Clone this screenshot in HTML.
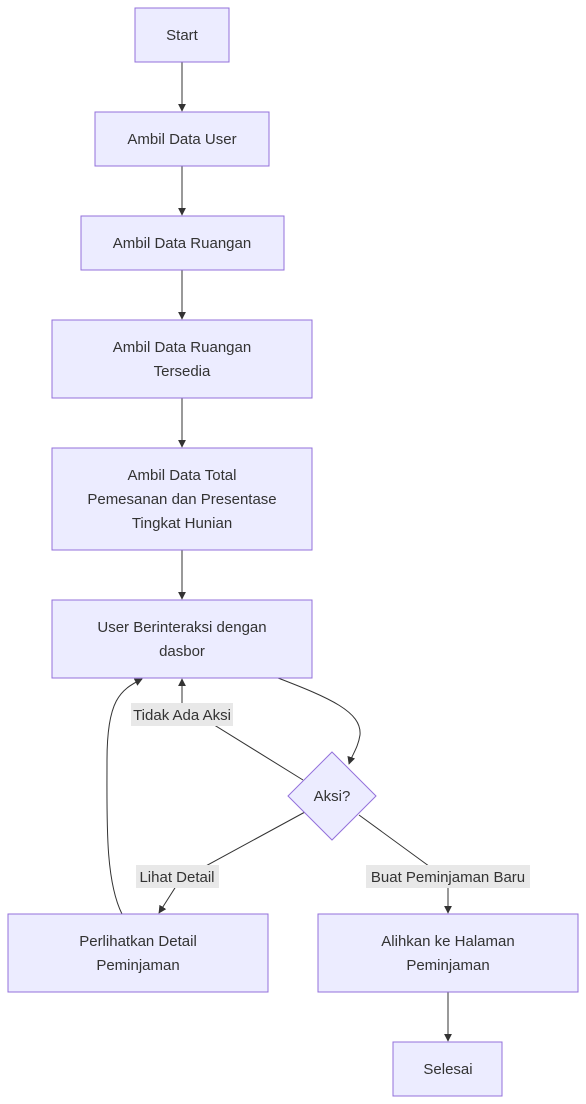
<!DOCTYPE html>
<html><head><meta charset="utf-8"><style>
html,body{margin:0;padding:0;background:#fff;}
svg{display:block;font-family:"Liberation Sans",sans-serif;}
.n{fill:#ECECFF;stroke:#9370DB;stroke-width:1;}
.t{font-size:15px;fill:#333;text-anchor:middle;}
.e{fill:none;stroke:#333;stroke-width:1;}
.lb{fill:#e8e8e8;}
</style></head><body>
<svg width="586" height="1104" viewBox="0 0 586 1104">
<defs><marker id="a" viewBox="0 0 10 10" refX="9" refY="5" markerWidth="8" markerHeight="8" orient="auto"><path d="M0,0L10,5L0,10z" fill="#333"/></marker></defs>
<!-- edges -->
<path class="e" d="M182,62V111" marker-end="url(#a)"/>
<path class="e" d="M182,166V215" marker-end="url(#a)"/>
<path class="e" d="M182,270V319" marker-end="url(#a)"/>
<path class="e" d="M182,398V447" marker-end="url(#a)"/>
<path class="e" d="M182,550V599" marker-end="url(#a)"/>
<path class="e" d="M278,678 C330,698 362,712 360,735 C358,748 352,755 349,764" marker-end="url(#a)"/>
<path class="e" d="M303,780 L182,705 V679" marker-end="url(#a)"/>
<path class="e" d="M305,812 L180,880 L159,913" marker-end="url(#a)"/>
<path class="e" d="M359,815 L448,880 V913" marker-end="url(#a)"/>
<path class="e" d="M122,914 C105,880 107,820 107,760 C107,700 120,690 142,679" marker-end="url(#a)"/>
<path class="e" d="M448,992V1041" marker-end="url(#a)"/>
<!-- nodes -->
<rect class="n" x="135" y="8" width="94" height="54"/><text class="t" x="182" y="40">Start</text>
<rect class="n" x="95" y="112" width="174" height="54"/><text class="t" x="182" y="144">Ambil Data User</text>
<rect class="n" x="81" y="216" width="203" height="54"/><text class="t" x="182" y="248">Ambil Data Ruangan</text>
<rect class="n" x="52" y="320" width="260" height="78"/><text class="t" x="182" y="352">Ambil Data Ruangan</text><text class="t" x="182" y="376">Tersedia</text>
<rect class="n" x="52" y="448" width="260" height="102"/><text class="t" x="182" y="480">Ambil Data Total</text><text class="t" x="182" y="504">Pemesanan dan Presentase</text><text class="t" x="182" y="528">Tingkat Hunian</text>
<rect class="n" x="52" y="600" width="260" height="78"/><text class="t" x="182" y="632">User Berinteraksi dengan</text><text class="t" x="182" y="656">dasbor</text>
<polygon class="n" points="332,752 376,796 332,840 288,796"/><text class="t" x="332" y="801">Aksi?</text>
<rect class="n" x="8" y="914" width="260" height="78"/><text class="t" x="138" y="946">Perlihatkan Detail</text><text class="t" x="138" y="970">Peminjaman</text>
<rect class="n" x="318" y="914" width="260" height="78"/><text class="t" x="448" y="946">Alihkan ke Halaman</text><text class="t" x="448" y="970">Peminjaman</text>
<rect class="n" x="393" y="1042" width="109" height="54"/><text class="t" x="448" y="1074">Selesai</text>
<!-- labels -->
<rect class="lb" x="131" y="703" width="102" height="23"/><text class="t" x="182" y="720">Tidak Ada Aksi</text>
<rect class="lb" x="136" y="865" width="83" height="23"/><text class="t" x="177" y="882">Lihat Detail</text>
<rect class="lb" x="366" y="865" width="164" height="23"/><text class="t" x="448" y="882">Buat Peminjaman Baru</text>
</svg>
</body></html>
